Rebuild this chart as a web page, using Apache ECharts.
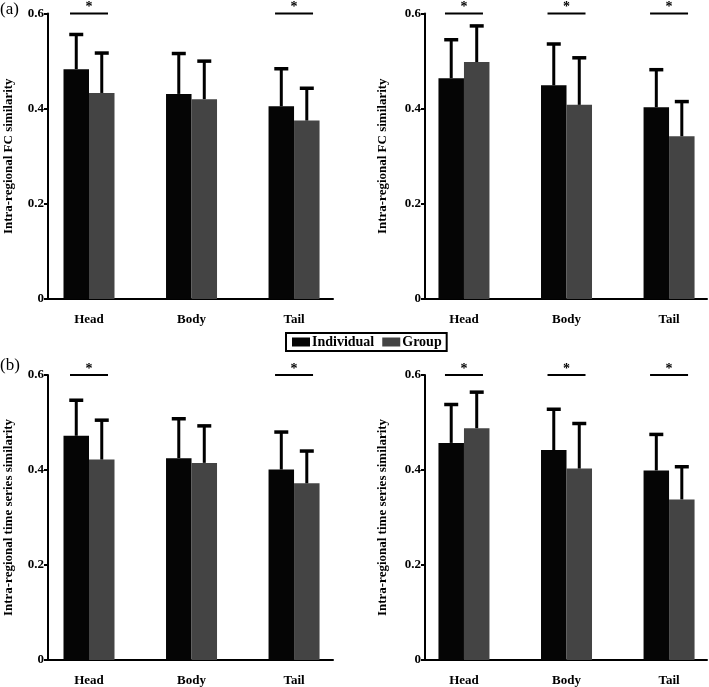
<!DOCTYPE html>
<html>
<head>
<meta charset="utf-8">
<script src="https://cdn.jsdelivr.net/npm/echarts@6/dist/echarts.min.js"></script>
<style>
html,body{margin:0;padding:0;background:#fff;}
#chart{width:709px;height:687px;}
</style>
</head>
<body>
<div id="chart"></div>
<script>
// ---- data ----
const categories = ['Head', 'Body', 'Tail'];
const seriesNames = ['Individual', 'Group'];
const yTitles = ['Intra-regional FC similarity', 'Intra-regional time series similarity'];
const yTicks = [0, 0.2, 0.4, 0.6];

// panel a-left
const aL_ind = [0.483, 0.431, 0.405];
const aL_indErr = [0.558, 0.518, 0.486];
const aL_grp = [0.433, 0.420, 0.375];
const aL_grpErr = [0.519, 0.502, 0.445];
const aL_sig = [0, 2];
// panel a-right
const aR_ind = [0.464, 0.449, 0.403];
const aR_indErr = [0.547, 0.538, 0.484];
const aR_grp = [0.498, 0.408, 0.342];
const aR_grpErr = [0.576, 0.509, 0.417];
const aR_sig = [0, 1, 2];
// panel b-left
const bL_ind = [0.472, 0.425, 0.401];
const bL_indErr = [0.549, 0.510, 0.482];
const bL_grp = [0.422, 0.415, 0.372];
const bL_grpErr = [0.507, 0.495, 0.442];
const bL_sig = [0, 2];
// panel b-right
const bR_ind = [0.457, 0.442, 0.399];
const bR_indErr = [0.540, 0.530, 0.477];
const bR_grp = [0.488, 0.403, 0.338];
const bR_grpErr = [0.566, 0.500, 0.409];
const bR_sig = [0, 1, 2];

const panels = [
  {ind: aL_ind, indErr: aL_indErr, grp: aL_grp, grpErr: aL_grpErr, sig: aL_sig, title: yTitles[0]},
  {ind: aR_ind, indErr: aR_indErr, grp: aR_grp, grpErr: aR_grpErr, sig: aR_sig, title: yTitles[0]},
  {ind: bL_ind, indErr: bL_indErr, grp: bL_grp, grpErr: bL_grpErr, sig: bL_sig, title: yTitles[1]},
  {ind: bR_ind, indErr: bR_indErr, grp: bR_grp, grpErr: bR_grpErr, sig: bR_sig, title: yTitles[1]}
];

// ---- layout / style ----
const FONT = '"Liberation Serif", "Times New Roman", serif';
const COL_IND = '#050505';
const COL_GRP = '#444444';
const BAR_W = 25.5;
const grids = [
  {left: 48, top: 13.5, width: 285, height: 285.5},
  {left: 425, top: 13.5, width: 282, height: 285.5},
  {left: 48, top: 375, width: 285, height: 285},
  {left: 425, top: 375, width: 282, height: 285}
];
const xRanges = [[-0.40, 2.38], [-0.38, 2.37], [-0.40, 2.38], [-0.38, 2.37]];
const nameGaps = [33, 36, 33, 36];

const chart = echarts.init(document.getElementById('chart'), null, {renderer: 'canvas'});

const xAxes = [], yAxes = [], series = [];
panels.forEach((p, i) => {
  xAxes.push({
    type: 'value', gridIndex: i, min: xRanges[i][0], max: xRanges[i][1],
    axisLine: {show: true, onZero: false, lineStyle: {color: '#000', width: 2}},
    axisTick: {show: false},
    splitLine: {show: false},
    axisLabel: {
      customValues: [0, 1, 2],
      formatter: v => categories[Math.round(v)] || '',
      fontFamily: FONT, fontWeight: 'bold', fontSize: 13, color: '#000', margin: 14
    }
  });
  yAxes.push({
    type: 'value', gridIndex: i, min: yTicks[0], max: yTicks[yTicks.length - 1], interval: 0.2,
    name: p.title, nameLocation: 'middle', nameRotate: 90, nameGap: nameGaps[i],
    nameTextStyle: {fontFamily: FONT, fontWeight: 'bold', fontSize: 13, color: '#000'},
    axisLine: {show: true, onZero: false, lineStyle: {color: '#000', width: 2}},
    axisTick: {show: true, length: 4, lineStyle: {color: '#000', width: 2}},
    splitLine: {show: false},
    axisLabel: {fontFamily: FONT, fontWeight: 'bold', fontSize: 13, color: '#000', margin: 4,
      formatter: v => String(Math.round(v * 10) / 10)}
  });
  series.push({
    name: seriesNames[0], type: 'bar', xAxisIndex: i, yAxisIndex: i,
    barWidth: BAR_W, barGap: '0%',
    itemStyle: {color: COL_IND},
    data: p.ind.map((v, k) => [k, v]), z: 2
  });
  series.push({
    name: seriesNames[1], type: 'bar', xAxisIndex: i, yAxisIndex: i,
    barWidth: BAR_W, barGap: '0%',
    itemStyle: {color: COL_GRP},
    data: p.grp.map((v, k) => [k, v]), z: 2
  });
  // error bars
  const errData = [];
  p.ind.forEach((v, k) => errData.push([k, v, p.indErr[k], -1]));
  p.grp.forEach((v, k) => errData.push([k, v, p.grpErr[k], 1]));
  series.push({
    type: 'custom', xAxisIndex: i, yAxisIndex: i, z: 3, silent: true,
    data: errData,
    renderItem: (params, api) => {
      const off = api.value(3) * BAR_W / 2;
      const a = api.coord([api.value(0), api.value(1)]);
      const b = api.coord([api.value(0), api.value(2)]);
      const x = a[0] + off;
      return {type: 'group', children: [
        {type: 'line', shape: {x1: x, y1: a[1], x2: x, y2: b[1]}, style: {stroke: '#000', lineWidth: 3}},
        {type: 'line', shape: {x1: x - 7, y1: b[1] + 1, x2: x + 7, y2: b[1] + 1}, style: {stroke: '#000', lineWidth: 3.5}}
      ]};
    }
  });
  // significance markers
  series.push({
    type: 'custom', xAxisIndex: i, yAxisIndex: i, z: 3, silent: true,
    data: p.sig.map(k => [k, yTicks[yTicks.length - 1]]),
    renderItem: (params, api) => {
      const c = api.coord([api.value(0), api.value(1)]);
      return {type: 'group', children: [
        {type: 'line', shape: {x1: c[0] - 19, y1: c[1], x2: c[0] + 19, y2: c[1]}, style: {stroke: '#000', lineWidth: 2}},
        {type: 'text', x: c[0], y: c[1] + 1, style: {text: '*', fill: '#000', font: 'bold 14px ' + FONT, align: 'center', verticalAlign: 'bottom'}}
      ]};
    }
  });
});

chart.setOption({
  backgroundColor: '#fff',
  animation: false,
  grid: grids.map(g => Object.assign({containLabel: false}, g)),
  xAxis: xAxes,
  yAxis: yAxes,
  legend: {
    data: seriesNames,
    left: 286, top: 333,
    orient: 'horizontal',
    itemWidth: 18, itemHeight: 9, itemGap: 8,
    padding: [2, 5, 2, 6],
    borderColor: '#000', borderWidth: 2,
    icon: 'rect',
    textStyle: {fontFamily: FONT, fontWeight: 'bold', fontSize: 14, color: '#000', padding: [0, 0, 0, -3]},
    selectedMode: false
  },
  graphic: [
    {type: 'text', left: 0, top: 1, style: {text: '(a)', font: '17px ' + FONT, fill: '#000'}},
    {type: 'text', left: 0, top: 357, style: {text: '(b)', font: '17px ' + FONT, fill: '#000'}}
  ],
  series: series
});
</script>
</body>
</html>
